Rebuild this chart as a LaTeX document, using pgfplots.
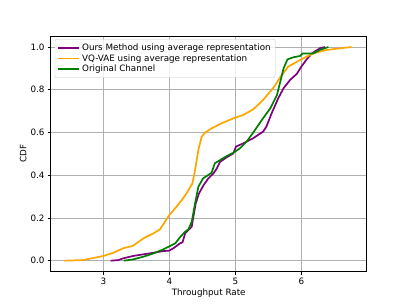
\documentclass[border=0pt]{standalone}
\usepackage{fontspec}
\setmainfont{DejaVu Sans}
\usepackage{pgfplots}
\pgfplotsset{compat=1.18}
\definecolor{mpurple}{HTML}{800080}
\definecolor{morange}{HTML}{FFA500}
\definecolor{mgreen}{HTML}{008000}
\definecolor{mgrid}{HTML}{B0B0B0}
\begin{document}
\fontsize{8.8}{10.5}\selectfont
\begin{tikzpicture}[x=1bp,y=1bp]
\path[use as bounding box] (0,0) rectangle (407,305);
\begin{axis}[
  at={(50.7bp,33.3bp)}, anchor=south west,
  scale only axis, width=316bp, height=235.7bp,
  xmin=2.203, xmax=6.99, ymin=-0.0515, ymax=1.0515,
  xtick={3,4,5,6}, ytick={0,0.2,0.4,0.6,0.8,1.0},
  yticklabel style={/pgf/number format/.cd,fixed,fixed zerofill,precision=1},
  /pgf/number format/assume math mode=true,
  tick align=outside, tick pos=left,
  major tick length=3.1bp,
  every tick/.style={black, line width=0.7bp},
  grid=major, grid style={mgrid, line width=0.7bp},
  axis line style={line width=0.7bp},
  ticklabel style={font=\fontsize{8.8}{10}\selectfont},
  xlabel={Throughput Rate}, ylabel={CDF},
  label style={font=\fontsize{8.8}{10}\selectfont},
  xlabel style={yshift=2bp},
  ylabel style={yshift=-2bp},
  legend cell align=left,
  legend style={font=\fontsize{8.8}{10}\selectfont, draw=mgrid!70, rounded corners=2bp, fill=white, fill opacity=0.8, text opacity=1, at={(0.013,0.987)}, anchor=north west, row sep=-1.2bp, inner sep=2.5bp},
  legend image post style={line width=1.7bp},
  legend image code/.code={\draw[#1] (0cm,0cm) -- (0.74cm,0cm);},
]
\addplot[mpurple, line width=1.7bp] coordinates {
(3.11,0) (3.23,0.003) (3.30,0.011) (3.45,0.022) (3.61,0.030) (3.76,0.037) (3.91,0.045) (4.00,0.047) (4.06,0.058) (4.11,0.069) (4.16,0.081) (4.20,0.086) (4.24,0.128) (4.29,0.144) (4.34,0.159) (4.36,0.198) (4.40,0.268) (4.45,0.315) (4.52,0.354) (4.59,0.385) (4.67,0.409) (4.72,0.432) (4.77,0.463) (4.87,0.484) (4.97,0.502) (5.01,0.534) (5.12,0.549) (5.27,0.573) (5.42,0.604) (5.47,0.627) (5.55,0.690) (5.65,0.760) (5.73,0.807) (5.83,0.846) (5.93,0.874) (6.00,0.908) (6.08,0.942) (6.16,0.970) (6.28,0.994) (6.36,1.0)
};
\addlegendentry{Ours Method using average representation}
\addplot[morange, line width=1.7bp] coordinates {
(2.41,0) (2.70,0.003) (2.90,0.016) (3.00,0.022) (3.15,0.037) (3.30,0.058) (3.45,0.070) (3.61,0.105) (3.76,0.128) (3.86,0.147) (4.00,0.214) (4.11,0.253) (4.19,0.284) (4.26,0.315) (4.35,0.362) (4.39,0.424) (4.44,0.518) (4.49,0.580) (4.54,0.599) (4.64,0.619) (4.77,0.640) (4.97,0.666) (5.12,0.682) (5.27,0.708) (5.42,0.752) (5.58,0.811) (5.68,0.858) (5.80,0.908) (5.98,0.939) (6.18,0.970) (6.38,0.986) (6.59,0.994) (6.76,1.0)
};
\addlegendentry{VQ-VAE using average representation}
\addplot[mgreen, line width=1.7bp] coordinates {
(3.31,0) (3.45,0.006) (3.61,0.019) (3.76,0.034) (3.91,0.053) (4.01,0.069) (4.09,0.081) (4.16,0.109) (4.24,0.136) (4.29,0.147) (4.34,0.183) (4.39,0.268) (4.44,0.346) (4.51,0.385) (4.59,0.401) (4.64,0.412) (4.69,0.456) (4.77,0.471) (4.87,0.490) (4.97,0.505) (5.07,0.526) (5.17,0.557) (5.27,0.599) (5.40,0.658) (5.53,0.713) (5.63,0.775) (5.70,0.861) (5.73,0.900) (5.79,0.942) (5.88,0.952) (5.98,0.958) (6.02,0.970) (6.18,0.970) (6.28,0.986) (6.41,1.0)
};
\addlegendentry{Original Channel}
\end{axis}
\end{tikzpicture}
\end{document}
